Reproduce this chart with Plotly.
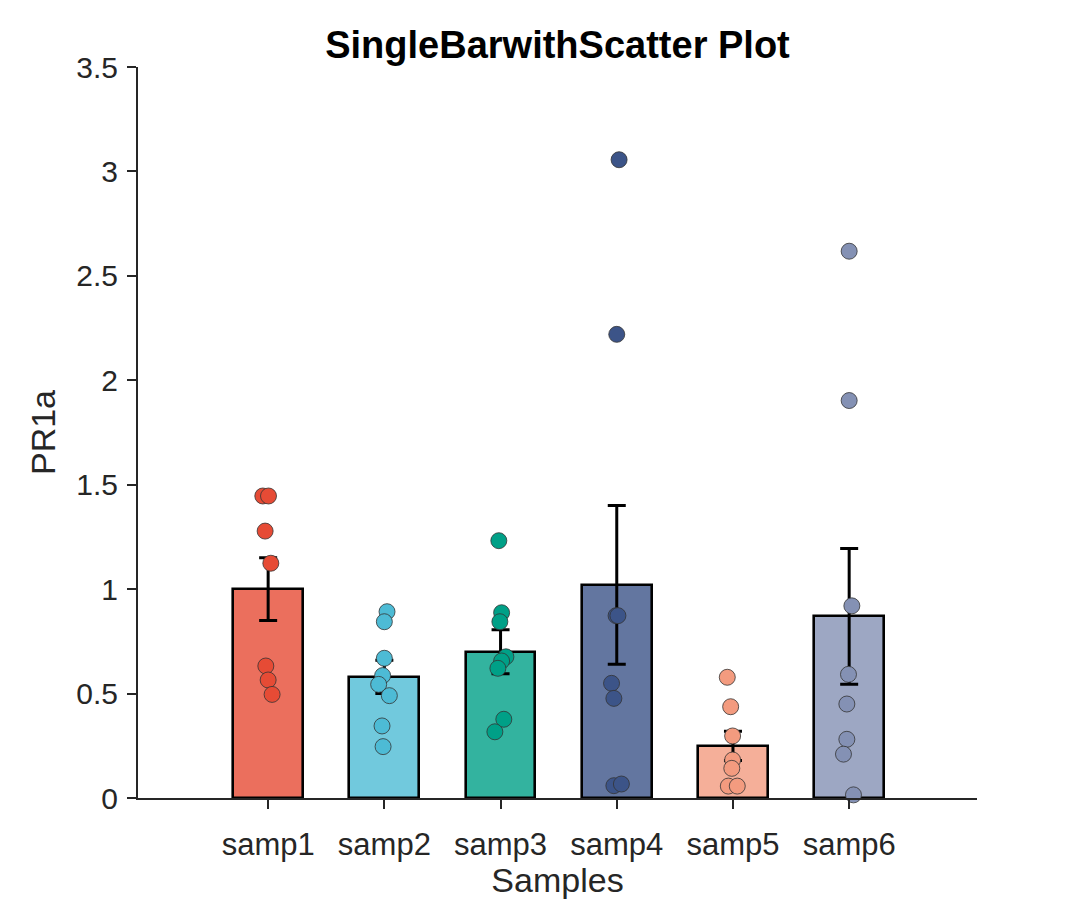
import plotly.graph_objects as go

categories = ["samp1", "samp2", "samp3", "samp4", "samp5", "samp6"]
positions = [1, 2, 3, 4, 5, 6]
bar_means = [1.00, 0.58, 0.70, 1.02, 0.25, 0.87]
bar_se = [0.15, 0.08, 0.105, 0.38, 0.07, 0.325]

samp1_vals = [1.446, 1.446, 1.278, 1.124, 0.632, 0.565, 0.496]
samp2_vals = [0.892, 0.844, 0.669, 0.586, 0.544, 0.490, 0.345, 0.246]
samp3_vals = [1.232, 0.887, 0.844, 0.676, 0.656, 0.621, 0.377, 0.317]
samp4_vals = [3.056, 2.220, 0.873, 0.873, 0.549, 0.477, 0.059, 0.067]
samp5_vals = [0.578, 0.437, 0.297, 0.182, 0.142, 0.057, 0.057]
samp6_vals = [2.618, 1.903, 0.920, 0.592, 0.450, 0.281, 0.210, 0.015]

samp1_jit = [-0.046, 0.003, -0.026, 0.023, -0.020, 0.0, 0.034]
samp2_jit = [0.023, 0.0, 0.0, -0.015, -0.049, 0.043, -0.020, -0.011]
samp3_jit = [-0.015, 0.009, -0.006, 0.046, 0.009, -0.023, 0.028, -0.049]
samp4_jit = [0.020, 0.0, -0.006, 0.010, -0.045, -0.025, -0.025, 0.040]
samp5_jit = [-0.049, -0.020, -0.003, -0.003, -0.010, -0.040, 0.037]
samp6_jit = [0.0, 0.0, 0.023, -0.006, -0.020, -0.020, -0.049, 0.037]

point_colors = ["#E64B35", "#4DBBD5", "#00A087", "#3C5488", "#F39B7F", "#8491B4"]

all_vals = [samp1_vals, samp2_vals, samp3_vals, samp4_vals, samp5_vals, samp6_vals]
all_jit = [samp1_jit, samp2_jit, samp3_jit, samp4_jit, samp5_jit, samp6_jit]


def rgba(hexc, a):
    h = hexc.lstrip("#")
    r, g, b = int(h[0:2], 16), int(h[2:4], 16), int(h[4:6], 16)
    return f"rgba({r},{g},{b},{a})"


FONT = "Liberation Sans, Arial, Helvetica, sans-serif"
AX = "#262626"

fig = go.Figure()

fig.add_trace(go.Bar(
    x=positions, y=bar_means, width=0.6,
    marker=dict(color=[rgba(c, 0.8) for c in point_colors],
                line=dict(color="black", width=2.6)),
    error_y=dict(type="data", array=bar_se, visible=True,
                 color="black", thickness=3, width=9),
    showlegend=False, hoverinfo="skip",
))

for pos, vals, jit, col in zip(positions, all_vals, all_jit, point_colors):
    fig.add_trace(go.Scatter(
        x=[pos + j for j in jit], y=vals, mode="markers",
        marker=dict(size=16, color=col, line=dict(color="#333333", width=0.8)),
        showlegend=False, cliponaxis=False,
    ))

fig.update_layout(
    width=1080, height=899,
    margin=dict(l=138, r=103, t=67, b=101),
    paper_bgcolor="white", plot_bgcolor="white",
    font=dict(family=FONT, color=AX),
    title=dict(text="<b>SingleBarwithScatter Plot</b>", x=0.5, xref="paper",
               y=1 - 45 / 899, yref="container", xanchor="center", yanchor="middle",
               font=dict(family=FONT, size=38, color="black")),
    bargap=0,
)

fig.update_xaxes(
    range=[-0.12, 7.1], tickmode="array", tickvals=positions, ticktext=categories,
    showline=True, linecolor=AX, linewidth=2, ticks="outside", ticklen=9,
    tickwidth=2, tickcolor=AX, showgrid=False, zeroline=False, automargin=False,
    ticklabelstandoff=9,
    tickfont=dict(family=FONT, size=31, color=AX),
    title=dict(text="Samples", font=dict(family=FONT, size=34, color=AX), standoff=8),
)
fig.update_yaxes(
    range=[0, 3.5], tickmode="array", tickvals=[0, 0.5, 1, 1.5, 2, 2.5, 3, 3.5],
    ticktext=["0", "0.5", "1", "1.5", "2", "2.5", "3", "3.5"],
    showline=True, linecolor=AX, linewidth=2, ticks="outside", ticklen=9,
    tickwidth=2, tickcolor=AX, showgrid=False, zeroline=False, automargin=False,
    ticklabelstandoff=3,
    tickfont=dict(family=FONT, size=30, color=AX),
    title=dict(text="PR1a", font=dict(family=FONT, size=34, color=AX), standoff=10),
)

fig.write_html("out.html")
